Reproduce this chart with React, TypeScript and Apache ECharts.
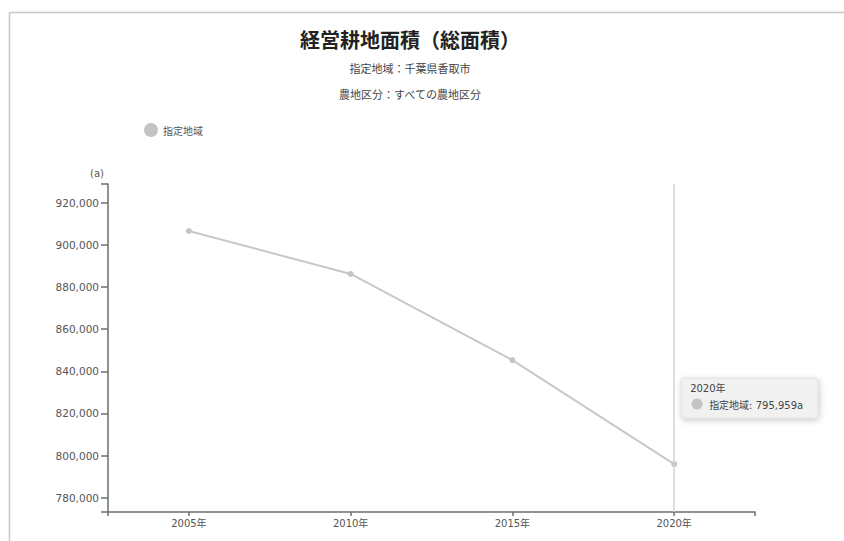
import React, { useEffect, useRef } from "react";
import * as echarts from "echarts";

const years = [2005, 2010, 2015, 2020];
const values = [906600, 886200, 845300, 795959];
const yTickLabels = [780000, 800000, 820000, 840000, 860000, 880000, 900000, 920000];
const seriesName = "指定地域";
const titleText = "経営耕地面積（総面積）";
const subtitle1 = "指定地域：千葉県香取市";
const subtitle2 = "農地区分：すべての農地区分";
const unit = "a";

const Y_MIN = 773200;
const Y_MAX = 928900;
const X_MIN = 2002.5;
const X_MAX = 2022.5;

const FONT = "'DejaVu Sans', 'Noto Sans CJK JP', sans-serif";
const CJK = "'Noto Sans CJK JP', sans-serif";

const fmt = (v: number) => v.toLocaleString("en-US");

export default function App() {
  const ref = useRef<HTMLDivElement>(null);
  useEffect(() => {
    if (!ref.current) return;
    const chart = echarts.init(ref.current, null, { renderer: "svg" });
    const axisLine = { show: true, lineStyle: { color: "#6e6e6e", width: 1.5 } };
    chart.setOption({
      animation: false,
      backgroundColor: "#fff",
      title: [
        { text: titleText, left: 405, top: 24, textAlign: "center", textStyle: { fontFamily: CJK, fontSize: 20, fontWeight: "bold", color: "#222" } },
        { text: subtitle1, left: 405, top: 57, textAlign: "center", textStyle: { fontFamily: CJK, fontSize: 11, fontWeight: "normal", color: "#444" } },
        { text: subtitle2, left: 405, top: 83, textAlign: "center", textStyle: { fontFamily: CJK, fontSize: 11, fontWeight: "normal", color: "#444" } },
      ],
      legend: {
        data: [{ name: seriesName, icon: "circle" }],
        left: 139,
        top: 118,
        itemWidth: 14,
        itemHeight: 14,
        itemGap: 5,
        textStyle: { fontFamily: CJK, fontSize: 10, color: "#555" },
      },
      grid: { left: 108, right: 89, top: 184, bottom: 29, containLabel: false },
      xAxis: {
        type: "value",
        min: X_MIN,
        max: X_MAX,
        splitLine: { show: false },
        axisLine,
        axisTick: { show: true, length: 4, lineStyle: { color: "#6e6e6e", width: 1.5 }, customValues: [X_MIN, ...years, X_MAX] },
        axisLabel: { customValues: years, formatter: (v: number) => `${v}年`, fontFamily: FONT, fontSize: 10, color: "#555", margin: 6 },
      },
      yAxis: {
        type: "value",
        min: Y_MIN,
        max: Y_MAX,
        name: `(${unit})`,
        nameLocation: "end",
        nameGap: 6,
        nameTextStyle: { fontFamily: FONT, fontSize: 10, color: "#555", align: "right", padding: [0, 4, 0, 0] },
        splitLine: { show: false },
        axisLine,
        axisTick: { show: true, length: 7, lineStyle: { color: "#6e6e6e", width: 1.5 }, customValues: [Y_MIN, ...yTickLabels, Y_MAX] },
        axisLabel: { customValues: yTickLabels, formatter: (v: number) => fmt(v), fontFamily: FONT, fontSize: 10.5, color: "#555", margin: 9 },
      },
      series: [
        {
          name: seriesName,
          type: "line",
          data: years.map((y, i) => [y, values[i]]),
          color: "#c4c4c4",
          lineStyle: { color: "#c8c8c8", width: 2 },
          itemStyle: { color: "#c4c4c4" },
          symbol: "circle",
          symbolSize: 6,
          z: 3,
          markLine: {
            silent: true,
            symbol: "none",
            label: { show: false },
            lineStyle: { color: "#d4d4d4", width: 1.5, type: "solid" },
            data: [{ xAxis: years[years.length - 1] }],
          },
        },
      ],
    });
    const last = years.length - 1;
    const p = chart.convertToPixel({ gridIndex: 0 }, [years[last], values[last]]) as number[];
    const bx = p[0] + 7;
    const by = p[1] - 86;
    chart.setOption({
      graphic: [
        { type: "line", shape: { x1: 9.5, y1: 12.5, x2: 844, y2: 12.5 }, style: { stroke: "#c8c8c8", lineWidth: 1.5 } },
        { type: "line", shape: { x1: 9.5, y1: 12.5, x2: 9.5, y2: 541 }, style: { stroke: "#c8c8c8", lineWidth: 1.5 } },
        {
          type: "group",
          x: bx,
          y: by,
          z: 100,
          children: [
            {
              type: "rect",
              shape: { x: 0, y: 0, width: 137, height: 40, r: 3 },
              style: { fill: "#f1f1f1", stroke: "#dedede", lineWidth: 1, shadowBlur: 6, shadowColor: "rgba(0,0,0,0.2)", shadowOffsetX: 1, shadowOffsetY: 2 },
            },
            { type: "text", x: 9, y: 10, style: { text: `${years[last]}年`, fontFamily: FONT, fontSize: 10, fill: "#444", textVerticalAlign: "middle" } },
            { type: "circle", shape: { cx: 16, cy: 26, r: 5.5 }, style: { fill: "#c4c4c4" } },
            { type: "text", x: 28, y: 27, style: { text: `${seriesName}: ${fmt(values[last])}${unit}`, fontFamily: FONT, fontSize: 10, fill: "#444", textVerticalAlign: "middle" } },
          ],
        },
      ],
    });
    return () => chart.dispose();
  }, []);
  return (
    <div style={{ position: "fixed", left: 0, top: 0, width: 844, height: 541 }}>
      <div ref={ref} style={{ width: 844, height: 541 }} />
    </div>
  );
}
